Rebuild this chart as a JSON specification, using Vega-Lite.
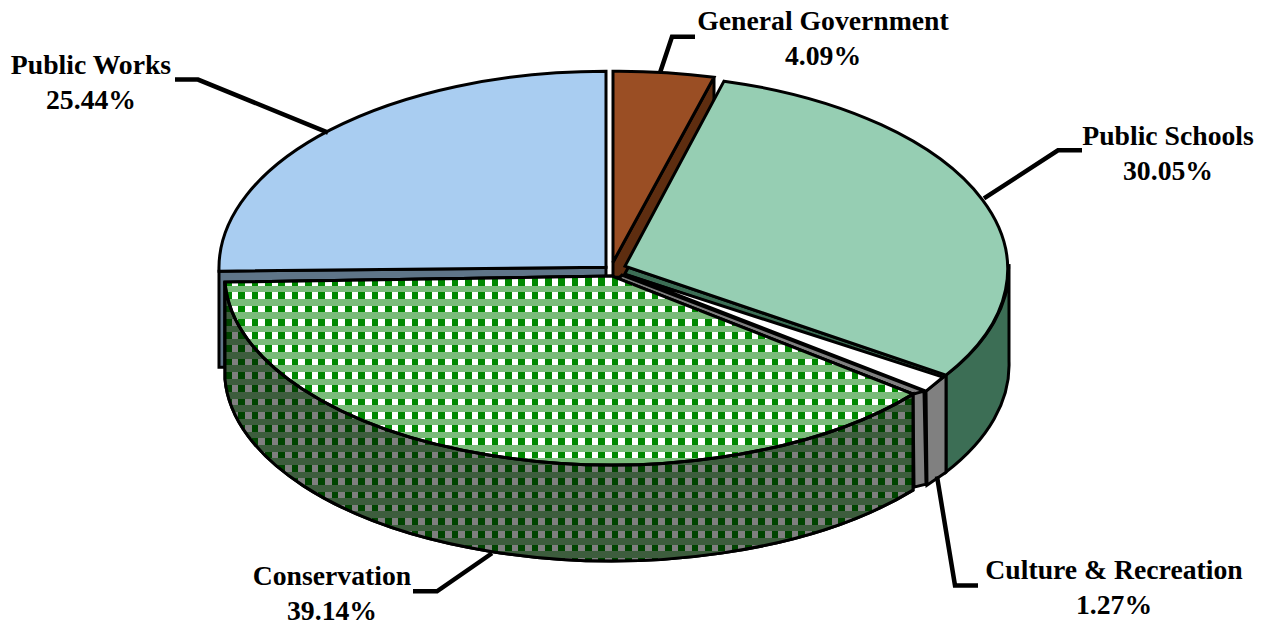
{"$schema":"https://vega.github.io/schema/vega-lite/v6.json","width":1266,"height":626,"padding":0,"autosize":{"type":"fit","contains":"padding"},"background":"white","view":{"stroke":null},
"datasets":{"slices":[
{"name":"Public Schools","share":30.05,"ax":625,"ay":267,"lx":984,"ly":199,"tx":1168,"ty":123,"label":"Public Schools\n30.05%"},
{"name":"General Government","share":4.09,"ax":613,"ay":263,"lx":660,"ly":73,"tx":823,"ty":8,"label":"General Government\n4.09%"},
{"name":"Public Works","share":25.44,"ax":606,"ay":268,"lx":328,"ly":133,"tx":91,"ty":52,"label":"Public Works\n25.44%"},
{"name":"Conservation","share":39.14,"ax":612,"ay":277,"lx":492,"ly":555,"tx":332,"ty":565,"label":"Conservation\n39.14%"},
{"name":"Culture & Recreation","share":1.27,"ax":624,"ay":275,"lx":937,"ly":478,"tx":1114,"ty":559,"label":"Culture & Recreation\n1.27%"}
]},
"data":{"name":"slices"},
"encoding":{"x":{"field":"ax","type":"quantitative","scale":{"domain":[0,1266]},"axis":null},"y":{"field":"ay","type":"quantitative","scale":{"domain":[0,626],"reverse":true},"axis":null}},
"layer":[
{"mark":{"type":"point","filled":true,"size":4,"stroke":"black","strokeWidth":3,"opacity":1},
"encoding":{
"shape":{"field":"name","type":"nominal","legend":null,"scale":{"domain":["Public Schools","General Government","Public Works","Conservation","Culture & Recreation"],"range":[
"M384,-2 A385,195 0 0 1 321,109 L321,206 A385,195 0 0 0 384,95 Z M0,0 L321,109 L318,114 L-3,7 Z",
"M101,-185 L101,-153 L10,15 L0,15 L0,0 Z",
"M-387,4 L0,0 L0,9 L-381,15 L-381,100 L-387,100 Z",
"M301,118 A387,190 0 0 1 -387,6 L-387,103 A387,190 0 0 0 301,214 Z",
"M289,120 L300,117 L302,210 L290,213 Z M302,117 L322,101 L322,198 L303,211 Z M-2,1 L300,117 L289,120 L-6,5 Z"]}},
"fill":{"field":"name","type":"nominal","legend":null,"scale":{"domain":["Public Schools","General Government","Public Works","Conservation","Culture & Recreation"],"range":["#3c6e55","#5e2d10","#5f7588","#3e6a42","#808080"]}}}},
{"mark":{"type":"point","filled":true,"size":4,"stroke":"black","strokeWidth":3,"opacity":1},
"encoding":{
"shape":{"field":"name","type":"nominal","legend":null,"scale":{"domain":["Public Schools","General Government","Public Works","Conservation","Culture & Recreation"],"range":[
"M0,0 L99,-185 A385,195 0 0 1 321,109 Z",
"M0,0 L0,-191 A387,197 0 0 1 101,-185 Z",
"M0,0 L0,-196 A387,197 0 0 0 -387,4 Z",
"M0,0 L301,118 A387,190 0 0 1 -387,6 Z",
"M0,0 L319,103 L302,117 Z"]}},
"fill":{"field":"name","type":"nominal","legend":null,"scale":{"domain":["Public Schools","General Government","Public Works","Conservation","Culture & Recreation"],"range":["#96ceb3","#9a4e24","#a9cdf1","#74b974","#ffffff"]}}}},
{"transform":[{"filter":"datum.name==='Conservation'"}],
"mark":{"type":"point","size":4,"opacity":1,"strokeWidth":0,"filled":true,"shape":"M0,0 L301,118 L301,214 A387,190 0 0 1 -387,103 L-387,6 Z",
"fill":{"gradient":"linear","x1":0,"y1":0,"x2":1,"y2":0,"stops":[
{"offset":0,"color":"#080"},{"offset":0.0097,"color":"#080"},{"offset":0.0097,"color":"#fff"},{"offset":0.0194,"color":"#fff"},
{"offset":0.0194,"color":"#080"},{"offset":0.0291,"color":"#080"},{"offset":0.0291,"color":"#fff"},{"offset":0.0388,"color":"#fff"},
{"offset":0.0388,"color":"#080"},{"offset":0.0485,"color":"#080"},{"offset":0.0485,"color":"#fff"},{"offset":0.0581,"color":"#fff"},
{"offset":0.0581,"color":"#080"},{"offset":0.0678,"color":"#080"},{"offset":0.0678,"color":"#fff"},{"offset":0.0775,"color":"#fff"},
{"offset":0.0775,"color":"#080"},{"offset":0.0872,"color":"#080"},{"offset":0.0872,"color":"#fff"},{"offset":0.0969,"color":"#fff"},
{"offset":0.0969,"color":"#080"},{"offset":0.1066,"color":"#080"},{"offset":0.1066,"color":"#fff"},{"offset":0.1163,"color":"#fff"},
{"offset":0.1163,"color":"#080"},{"offset":0.126,"color":"#080"},{"offset":0.126,"color":"#fff"},{"offset":0.1357,"color":"#fff"},
{"offset":0.1357,"color":"#080"},{"offset":0.1454,"color":"#080"},{"offset":0.1454,"color":"#fff"},{"offset":0.155,"color":"#fff"},
{"offset":0.155,"color":"#080"},{"offset":0.1647,"color":"#080"},{"offset":0.1647,"color":"#fff"},{"offset":0.1744,"color":"#fff"},
{"offset":0.1744,"color":"#080"},{"offset":0.1841,"color":"#080"},{"offset":0.1841,"color":"#fff"},{"offset":0.1938,"color":"#fff"},
{"offset":0.1938,"color":"#080"},{"offset":0.2035,"color":"#080"},{"offset":0.2035,"color":"#fff"},{"offset":0.2132,"color":"#fff"},
{"offset":0.2132,"color":"#080"},{"offset":0.2229,"color":"#080"},{"offset":0.2229,"color":"#fff"},{"offset":0.2326,"color":"#fff"},
{"offset":0.2326,"color":"#080"},{"offset":0.2423,"color":"#080"},{"offset":0.2423,"color":"#fff"},{"offset":0.2519,"color":"#fff"},
{"offset":0.2519,"color":"#080"},{"offset":0.2616,"color":"#080"},{"offset":0.2616,"color":"#fff"},{"offset":0.2713,"color":"#fff"},
{"offset":0.2713,"color":"#080"},{"offset":0.281,"color":"#080"},{"offset":0.281,"color":"#fff"},{"offset":0.2907,"color":"#fff"},
{"offset":0.2907,"color":"#080"},{"offset":0.3004,"color":"#080"},{"offset":0.3004,"color":"#fff"},{"offset":0.3101,"color":"#fff"},
{"offset":0.3101,"color":"#080"},{"offset":0.3198,"color":"#080"},{"offset":0.3198,"color":"#fff"},{"offset":0.3295,"color":"#fff"},
{"offset":0.3295,"color":"#080"},{"offset":0.3392,"color":"#080"},{"offset":0.3392,"color":"#fff"},{"offset":0.3488,"color":"#fff"},
{"offset":0.3488,"color":"#080"},{"offset":0.3585,"color":"#080"},{"offset":0.3585,"color":"#fff"},{"offset":0.3682,"color":"#fff"},
{"offset":0.3682,"color":"#080"},{"offset":0.3779,"color":"#080"},{"offset":0.3779,"color":"#fff"},{"offset":0.3876,"color":"#fff"},
{"offset":0.3876,"color":"#080"},{"offset":0.3973,"color":"#080"},{"offset":0.3973,"color":"#fff"},{"offset":0.407,"color":"#fff"},
{"offset":0.407,"color":"#080"},{"offset":0.4167,"color":"#080"},{"offset":0.4167,"color":"#fff"},{"offset":0.4264,"color":"#fff"},
{"offset":0.4264,"color":"#080"},{"offset":0.4361,"color":"#080"},{"offset":0.4361,"color":"#fff"},{"offset":0.4457,"color":"#fff"},
{"offset":0.4457,"color":"#080"},{"offset":0.4554,"color":"#080"},{"offset":0.4554,"color":"#fff"},{"offset":0.4651,"color":"#fff"},
{"offset":0.4651,"color":"#080"},{"offset":0.4748,"color":"#080"},{"offset":0.4748,"color":"#fff"},{"offset":0.4845,"color":"#fff"},
{"offset":0.4845,"color":"#080"},{"offset":0.4942,"color":"#080"},{"offset":0.4942,"color":"#fff"},{"offset":0.5039,"color":"#fff"},
{"offset":0.5039,"color":"#080"},{"offset":0.5136,"color":"#080"},{"offset":0.5136,"color":"#fff"},{"offset":0.5233,"color":"#fff"},
{"offset":0.5233,"color":"#080"},{"offset":0.533,"color":"#080"},{"offset":0.533,"color":"#fff"},{"offset":0.5426,"color":"#fff"},
{"offset":0.5426,"color":"#080"},{"offset":0.5523,"color":"#080"},{"offset":0.5523,"color":"#fff"},{"offset":0.562,"color":"#fff"},
{"offset":0.562,"color":"#080"},{"offset":0.5717,"color":"#080"},{"offset":0.5717,"color":"#fff"},{"offset":0.5814,"color":"#fff"},
{"offset":0.5814,"color":"#080"},{"offset":0.5911,"color":"#080"},{"offset":0.5911,"color":"#fff"},{"offset":0.6008,"color":"#fff"},
{"offset":0.6008,"color":"#080"},{"offset":0.6105,"color":"#080"},{"offset":0.6105,"color":"#fff"},{"offset":0.6202,"color":"#fff"},
{"offset":0.6202,"color":"#080"},{"offset":0.6299,"color":"#080"},{"offset":0.6299,"color":"#fff"},{"offset":0.6395,"color":"#fff"},
{"offset":0.6395,"color":"#080"},{"offset":0.6492,"color":"#080"},{"offset":0.6492,"color":"#fff"},{"offset":0.6589,"color":"#fff"},
{"offset":0.6589,"color":"#080"},{"offset":0.6686,"color":"#080"},{"offset":0.6686,"color":"#fff"},{"offset":0.6783,"color":"#fff"},
{"offset":0.6783,"color":"#080"},{"offset":0.688,"color":"#080"},{"offset":0.688,"color":"#fff"},{"offset":0.6977,"color":"#fff"},
{"offset":0.6977,"color":"#080"},{"offset":0.7074,"color":"#080"},{"offset":0.7074,"color":"#fff"},{"offset":0.7171,"color":"#fff"},
{"offset":0.7171,"color":"#080"},{"offset":0.7268,"color":"#080"},{"offset":0.7268,"color":"#fff"},{"offset":0.7364,"color":"#fff"},
{"offset":0.7364,"color":"#080"},{"offset":0.7461,"color":"#080"},{"offset":0.7461,"color":"#fff"},{"offset":0.7558,"color":"#fff"},
{"offset":0.7558,"color":"#080"},{"offset":0.7655,"color":"#080"},{"offset":0.7655,"color":"#fff"},{"offset":0.7752,"color":"#fff"},
{"offset":0.7752,"color":"#080"},{"offset":0.7849,"color":"#080"},{"offset":0.7849,"color":"#fff"},{"offset":0.7946,"color":"#fff"},
{"offset":0.7946,"color":"#080"},{"offset":0.8043,"color":"#080"},{"offset":0.8043,"color":"#fff"},{"offset":0.814,"color":"#fff"},
{"offset":0.814,"color":"#080"},{"offset":0.8237,"color":"#080"},{"offset":0.8237,"color":"#fff"},{"offset":0.8333,"color":"#fff"},
{"offset":0.8333,"color":"#080"},{"offset":0.843,"color":"#080"},{"offset":0.843,"color":"#fff"},{"offset":0.8527,"color":"#fff"},
{"offset":0.8527,"color":"#080"},{"offset":0.8624,"color":"#080"},{"offset":0.8624,"color":"#fff"},{"offset":0.8721,"color":"#fff"},
{"offset":0.8721,"color":"#080"},{"offset":0.8818,"color":"#080"},{"offset":0.8818,"color":"#fff"},{"offset":0.8915,"color":"#fff"},
{"offset":0.8915,"color":"#080"},{"offset":0.9012,"color":"#080"},{"offset":0.9012,"color":"#fff"},{"offset":0.9109,"color":"#fff"},
{"offset":0.9109,"color":"#080"},{"offset":0.9206,"color":"#080"},{"offset":0.9206,"color":"#fff"},{"offset":0.9302,"color":"#fff"},
{"offset":0.9302,"color":"#080"},{"offset":0.9399,"color":"#080"},{"offset":0.9399,"color":"#fff"},{"offset":0.9496,"color":"#fff"},
{"offset":0.9496,"color":"#080"},{"offset":0.9593,"color":"#080"},{"offset":0.9593,"color":"#fff"},{"offset":0.969,"color":"#fff"},
{"offset":0.969,"color":"#080"},{"offset":0.9787,"color":"#080"},{"offset":0.9787,"color":"#fff"},{"offset":0.9884,"color":"#fff"},
{"offset":0.9884,"color":"#080"},{"offset":0.9981,"color":"#080"},{"offset":0.9981,"color":"#fff"},{"offset":1,"color":"#fff"}
]}}},
{"transform":[{"filter":"datum.name==='Conservation'"}],
"mark":{"type":"point","size":4,"opacity":1,"strokeWidth":0,"filled":true,"shape":"M0,0 L301,118 L301,214 A387,190 0 0 1 -387,103 L-387,6 Z",
"fill":{"gradient":"linear","x1":0,"y1":0,"x2":0,"y2":1,"stops":[
{"offset":0.0339,"color":"transparent"},{"offset":0.0339,"color":"#7abb7a"},{"offset":0.0572,"color":"#7abb7a"},{"offset":0.0572,"color":"transparent"},
{"offset":0.0805,"color":"transparent"},{"offset":0.0805,"color":"#7abb7a"},{"offset":0.1038,"color":"#7abb7a"},{"offset":0.1038,"color":"transparent"},
{"offset":0.1271,"color":"transparent"},{"offset":0.1271,"color":"#7abb7a"},{"offset":0.1504,"color":"#7abb7a"},{"offset":0.1504,"color":"transparent"},
{"offset":0.1737,"color":"transparent"},{"offset":0.1737,"color":"#7abb7a"},{"offset":0.197,"color":"#7abb7a"},{"offset":0.197,"color":"transparent"},
{"offset":0.2203,"color":"transparent"},{"offset":0.2203,"color":"#7abb7a"},{"offset":0.2436,"color":"#7abb7a"},{"offset":0.2436,"color":"transparent"},
{"offset":0.2669,"color":"transparent"},{"offset":0.2669,"color":"#7abb7a"},{"offset":0.2902,"color":"#7abb7a"},{"offset":0.2902,"color":"transparent"},
{"offset":0.3136,"color":"transparent"},{"offset":0.3136,"color":"#7abb7a"},{"offset":0.3369,"color":"#7abb7a"},{"offset":0.3369,"color":"transparent"},
{"offset":0.3602,"color":"transparent"},{"offset":0.3602,"color":"#7abb7a"},{"offset":0.3835,"color":"#7abb7a"},{"offset":0.3835,"color":"transparent"},
{"offset":0.4068,"color":"transparent"},{"offset":0.4068,"color":"#7abb7a"},{"offset":0.4301,"color":"#7abb7a"},{"offset":0.4301,"color":"transparent"},
{"offset":0.4534,"color":"transparent"},{"offset":0.4534,"color":"#7abb7a"},{"offset":0.4767,"color":"#7abb7a"},{"offset":0.4767,"color":"transparent"},
{"offset":0.5,"color":"transparent"},{"offset":0.5,"color":"#7abb7a"},{"offset":0.5233,"color":"#7abb7a"},{"offset":0.5233,"color":"transparent"},
{"offset":0.5466,"color":"transparent"},{"offset":0.5466,"color":"#7abb7a"},{"offset":0.5699,"color":"#7abb7a"},{"offset":0.5699,"color":"transparent"},
{"offset":0.5933,"color":"transparent"},{"offset":0.5933,"color":"#7abb7a"},{"offset":0.6166,"color":"#7abb7a"},{"offset":0.6166,"color":"transparent"},
{"offset":0.6399,"color":"transparent"},{"offset":0.6399,"color":"#7abb7a"},{"offset":0.6632,"color":"#7abb7a"},{"offset":0.6632,"color":"transparent"},
{"offset":0.6865,"color":"transparent"},{"offset":0.6865,"color":"#7abb7a"},{"offset":0.7098,"color":"#7abb7a"},{"offset":0.7098,"color":"transparent"},
{"offset":0.7331,"color":"transparent"},{"offset":0.7331,"color":"#7abb7a"},{"offset":0.7564,"color":"#7abb7a"},{"offset":0.7564,"color":"transparent"},
{"offset":0.7797,"color":"transparent"},{"offset":0.7797,"color":"#7abb7a"},{"offset":0.803,"color":"#7abb7a"},{"offset":0.803,"color":"transparent"},
{"offset":0.8263,"color":"transparent"},{"offset":0.8263,"color":"#7abb7a"},{"offset":0.8496,"color":"#7abb7a"},{"offset":0.8496,"color":"transparent"},
{"offset":0.873,"color":"transparent"},{"offset":0.873,"color":"#7abb7a"},{"offset":0.8963,"color":"#7abb7a"},{"offset":0.8963,"color":"transparent"},
{"offset":0.9196,"color":"transparent"},{"offset":0.9196,"color":"#7abb7a"},{"offset":0.9429,"color":"#7abb7a"},{"offset":0.9429,"color":"transparent"},
{"offset":0.9662,"color":"transparent"},{"offset":0.9662,"color":"#7abb7a"},{"offset":0.9895,"color":"#7abb7a"},{"offset":0.9895,"color":"transparent"}
]}}},
{"transform":[{"filter":"datum.name==='Conservation'"}],
"mark":{"type":"point","size":4,"opacity":1,"filled":true,"fill":"black","fillOpacity":0.5,"stroke":"black","strokeWidth":3,"strokeOpacity":1,"shape":"M301,118 A387,190 0 0 1 -387,6 L-387,103 A387,190 0 0 0 301,214 Z"}},
{"transform":[{"filter":"datum.name==='Conservation'"}],
"mark":{"type":"point","size":4,"opacity":1,"filled":false,"stroke":"black","strokeWidth":3,"shape":"M0,0 L301,118 A387,190 0 0 1 -387,6 Z"}},
{"mark":{"type":"point","filled":false,"size":4,"stroke":"black","strokeWidth":4.5,"opacity":1},
"encoding":{"x":{"field":"lx","type":"quantitative","scale":{"domain":[0,1266]},"axis":null},"y":{"field":"ly","type":"quantitative","scale":{"domain":[0,626],"reverse":true},"axis":null},
"shape":{"field":"name","type":"nominal","legend":null,"scale":{"domain":["Public Schools","General Government","Public Works","Conservation","Culture & Recreation"],"range":[
"M0,0 L74,-48 L98,-48",
"M0,0 L12,-36 L35,-36",
"M0,0 L-130,-53 L-153,-53",
"M0,0 L-55,38 L-79,38",
"M0,0 L18,109 L41,109"]}}}},
{"mark":{"type":"text","font":"Liberation Serif","fontWeight":"bold","fontSize":27.7,"lineHeight":35,"lineBreak":"\n","align":"center","baseline":"top","color":"black"},
"encoding":{"x":{"field":"tx","type":"quantitative","scale":{"domain":[0,1266]},"axis":null},"y":{"field":"ty","type":"quantitative","scale":{"domain":[0,626],"reverse":true},"axis":null},"text":{"field":"label"}}}
],
"resolve":{"scale":{"shape":"independent","fill":"independent"}}}
